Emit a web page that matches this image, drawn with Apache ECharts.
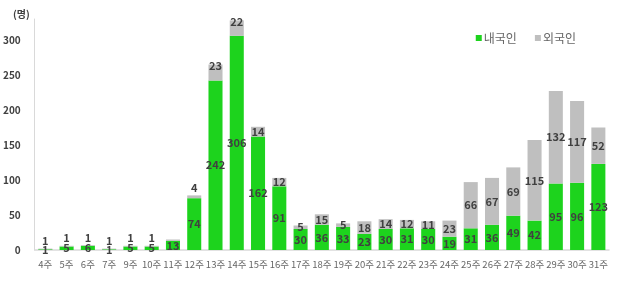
<!DOCTYPE html>
<html><head><meta charset="utf-8">
<script src="https://cdn.jsdelivr.net/npm/echarts@6/dist/echarts.min.js"></script>
<style>html,body{margin:0;padding:0;background:#fff}#c{width:621px;height:281px}</style>
</head><body><div id="c"></div>
<script>
var categories = ['4주','5주','6주','7주','9주','10주','11주','12주','13주','14주','15주','16주','17주','18주','19주','20주','21주','22주','23주','24주','25주','26주','27주','28주','29주','30주','31주'];
var domestic = [1,5,6,1,5,5,13,74,242,306,162,91,30,36,33,23,30,31,30,19,31,36,49,42,95,96,123];
var foreign  = [1,1,1,1,1,1,2,4,23,22,14,12,5,15,5,18,14,12,11,23,66,67,69,115,132,117,52];
var unlabelledForeign = ['11주'];
var yTicks = [0,50,100,150,200,250,300];

var FONT = '"Noto Sans CJK KR","Noto Sans",sans-serif';
var labelStyle = {color:'#404040', fontSize:11, fontWeight:'bold', fontFamily:FONT};

var foreignData = foreign.map(function(v,i){
  var item = {value:v};
  if (unlabelledForeign.indexOf(categories[i]) >= 0) item.label = {show:false};
  else if (v < 5) item.label = {position:'top', distance:2};
  else if (v >= 20 && v < 30 && domestic[i] > 200) item.label = {position:'insideTop', offset:[0,-9]};
  return item;
});

var chart = echarts.init(document.getElementById('c'), null, {renderer:'canvas'});
chart.setOption({
  animation:false,
  grid:{left:34, right:12, top:19, bottom:31, containLabel:false},
  legend:{
    data:['내국인','외국인'], right:40, top:27, itemWidth:6, itemHeight:6, itemGap:18,
    icon:'rect', textStyle:{color:'#666666', fontSize:12, fontFamily:FONT, padding:[0,0,0,-3]}
  },
  graphic:[{type:'text', left:13, top:9, style:{text:'(명)', fill:'#404040', font:'bold 10px '+FONT}}],
  xAxis:{
    type:'category', data:categories,
    axisLine:{lineStyle:{color:'#d9d9d9', width:1.5}}, axisTick:{show:false},
    axisLabel:{color:'#666666', fontSize:9.5, fontFamily:FONT, interval:0, margin:10}
  },
  yAxis:{
    type:'value', min:0, max:330, interval:50,
    axisLine:{show:true, lineStyle:{color:'#d9d9d9'}}, axisTick:{show:false},
    splitLine:{show:false},
    axisLabel:{color:'#404040', fontSize:10, fontWeight:'bold', fontFamily:FONT, margin:14,
      showMaxLabel:false,
      formatter:function(v){return yTicks.indexOf(v)>=0 ? String(v) : '';}}
  },
  series:[
    {name:'내국인', type:'bar', stack:'t', data:domestic, barWidth:'66%',
     itemStyle:{color:'#1dd31d'},
     label:Object.assign({show:true, position:'inside'}, labelStyle)},
    {name:'외국인', type:'bar', stack:'t', data:foreignData, barWidth:'66%',
     itemStyle:{color:'#bfbfbf'},
     label:Object.assign({show:true, position:'inside'}, labelStyle)}
  ]
});
</script></body></html>
